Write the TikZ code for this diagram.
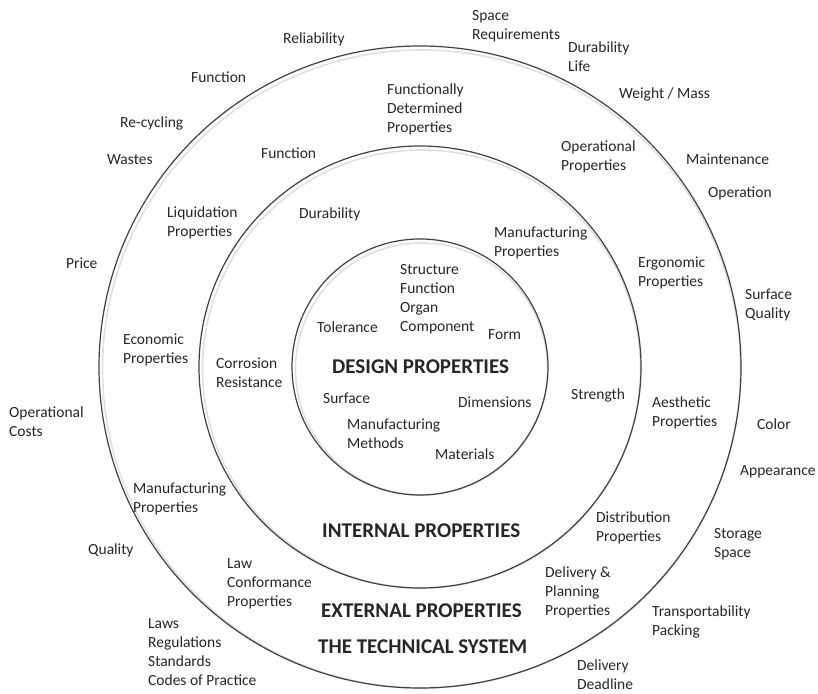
\documentclass[tikz,border=0pt]{standalone}
\usepackage{fontspec}
\setmainfont{Carlito}
\newcommand{\lblfont}{\fontsize{15.5}{19}\selectfont}
\newcommand{\ttlfont}{\fontsize{21}{24}\selectfont\bfseries}
\begin{document}
\begin{tikzpicture}[x=1pt,y=-1pt,
  lbl/.style={anchor=north west, inner sep=0pt, align=left, font=\lblfont, text=black!85},
  ttl/.style={anchor=base west, inner sep=0pt, font=\ttlfont, text=black!85},
  ring/.style={draw=black!75, line width=1.2pt},
  ringshadow/.style={draw=black!12, line width=1.6pt}]
\useasboundingbox (0,0) rectangle (818,693);
\coordinate (c) at (420,367);
% shadows
\draw[ringshadow] ([shift={(1.5,2)}]c) circle (126);
\draw[ringshadow] ([shift={(1.5,2)}]c) circle (219);
\draw[ringshadow] ([shift={(1.5,2)}]c) circle (319);
% rings
\draw[ring] (c) circle (128);
\draw[ring] (c) circle (221);
\draw[ring] (c) circle (321);

% titles
\node[ttl] (design) at (332,373) {DESIGN PROPERTIES};
\node[ttl] (internal) at (322,537) {INTERNAL PROPERTIES};
\node[ttl] (external) at (321,617) {EXTERNAL PROPERTIES};
\node[ttl] (system) at (318,653) {THE TECHNICAL SYSTEM};

% inner circle
\node[lbl] (structure) at (400,264) {Structure\\Function\\Organ\\Component};
\node[lbl] (tolerance) at (317,322) {Tolerance};
\node[lbl] (form) at (488,329) {Form};
\node[lbl] (surface) at (323,393) {Surface};
\node[lbl] (dimensions) at (458,397) {Dimensions};
\node[lbl] (methods) at (347,419) {Manufacturing\\Methods};
\node[lbl] (materials) at (435,449) {Materials};

% middle ring
\node[lbl] (funcmid) at (261,148) {Function};
\node[lbl] (durability) at (299,208) {Durability};
\node[lbl] (mfgprop) at (494,227) {Manufacturing\\Properties};
\node[lbl] (corrosion) at (216,358) {Corrosion\\Resistance};
\node[lbl] (strength) at (571,389) {Strength};

% outer ring
\node[lbl] (funcdet) at (387,84) {Functionally\\Determined\\Properties};
\node[lbl] (operprop) at (561,141) {Operational\\Properties};
\node[lbl] (liquidation) at (167,207) {Liquidation\\Properties};
\node[lbl] (ergonomic) at (638,257) {Ergonomic\\Properties};
\node[lbl] (economic) at (123,334) {Economic\\Properties};
\node[lbl] (aesthetic) at (652,397) {Aesthetic\\Properties};
\node[lbl] (mfgout) at (133,483) {Manufacturing\\Properties};
\node[lbl] (distribution) at (596,512) {Distribution\\Properties};
\node[lbl] (law) at (227,558) {Law\\Conformance\\Properties};
\node[lbl] (delivery) at (545,567) {Delivery \&\\Planning\\Properties};

% outside
\node[lbl] (space) at (472,10) {Space\\Requirements};
\node[lbl] (reliability) at (283,33) {Reliability};
\node[lbl] (durlife) at (568,42) {Durability\\Life};
\node[lbl] (funcout) at (191,72) {Function};
\node[lbl] (weight) at (619,88) {Weight / Mass};
\node[lbl] (recycling) at (120,117) {Re-cycling};
\node[lbl] (wastes) at (107,154) {Wastes};
\node[lbl] (maintenance) at (686,154) {Maintenance};
\node[lbl] (operation) at (708,187) {Operation};
\node[lbl] (price) at (66,258) {Price};
\node[lbl] (surfq) at (745,289) {Surface\\Quality};
\node[lbl] (opcosts) at (9,407) {Operational\\Costs};
\node[lbl] (color) at (757,419) {Color};
\node[lbl] (appearance) at (740,465) {Appearance};
\node[lbl] (storage) at (714,528) {Storage\\Space};
\node[lbl] (quality) at (88,544) {Quality};
\node[lbl] (transport) at (652,606) {Transportability\\Packing};
\node[lbl] (laws) at (148,618) {Laws\\Regulations\\Standards\\Codes of Practice};
\node[lbl] (deadline) at (577,660) {Delivery\\Deadline};
\end{tikzpicture}
\end{document}
